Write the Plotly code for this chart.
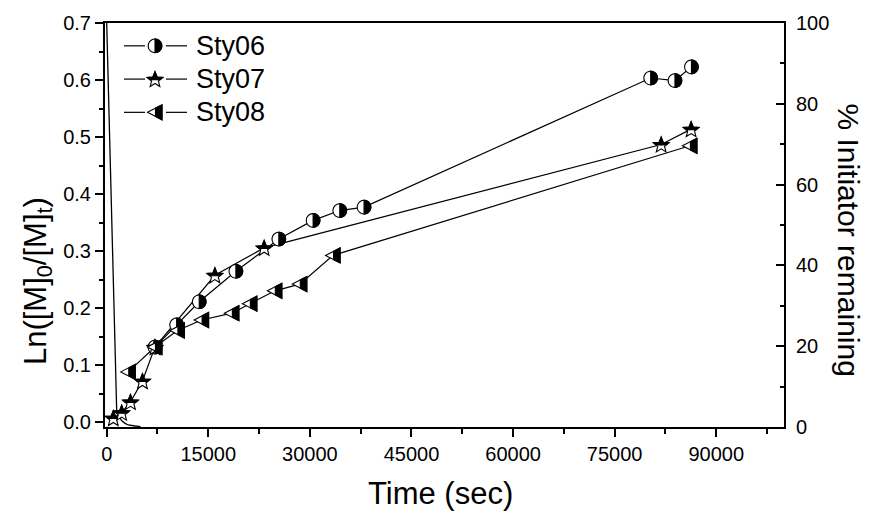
import math
import plotly.graph_objects as go

# ---------------- data ----------------
sty06_t = [7124, 10325, 13659, 19072, 25415, 30474, 34412, 37996, 80314, 83900, 86334]
sty06_y = [0.1315, 0.1705, 0.211, 0.2645, 0.321, 0.3537, 0.371, 0.377, 0.6035, 0.599, 0.623]

sty07_t = [974, 2213, 3511, 5280, 7124, 15974, 23246, 81862, 86287]
sty07_y = [0.007, 0.0164, 0.0353, 0.0719, 0.1315, 0.2575, 0.3056, 0.4869, 0.5138]

sty08_t = [3186, 7124, 10443, 14012, 18480, 21137, 24826, 28512, 33424, 86110]
sty08_y = [0.088, 0.1315, 0.1606, 0.179, 0.191, 0.2076, 0.2302, 0.242, 0.2923, 0.4846]

init_t = [0, 1000, 1475, 1711, 2200, 2700, 3186, 4174, 5000]
init_pct = [100, 36, 4.2, 3.0, 1.6, 0.9, 0.5, 0.25, 0.1]

series_names = ["Sty06", "Sty07", "Sty08"]
x_ticks = [0, 15000, 30000, 45000, 60000, 75000, 90000]

FONT = "Liberation Sans, Arial, Helvetica, sans-serif"

# ---------------- marker geometry (pixel offsets, y up) ----------------
def poly_path(pts):
    return "M " + " L ".join(f"{x:.2f},{y:.2f}" for x, y in pts) + " Z"


def clip(poly, inside, intersect):
    out = []
    n = len(poly)
    for i in range(n):
        cur = poly[i]
        prev = poly[i - 1]
        if inside(cur):
            if not inside(prev):
                out.append(intersect(prev, cur))
            out.append(cur)
        elif inside(prev):
            out.append(intersect(prev, cur))
    return out


def clip_x_ge(poly, c):
    return clip(poly, lambda p: p[0] >= c,
                lambda a, b: (c, a[1] + (b[1] - a[1]) * (c - a[0]) / (b[0] - a[0])))


def clip_y_ge(poly, c):
    return clip(poly, lambda p: p[1] >= c,
                lambda a, b: (a[0] + (b[0] - a[0]) * (c - a[1]) / (b[1] - a[1]), c))


R_C = 6.8
circle_pts = [(R_C * math.cos(2 * math.pi * k / 48), R_C * math.sin(2 * math.pi * k / 48)) for k in range(48)]
circle_full = poly_path(circle_pts)
circle_half = poly_path(clip_x_ge(circle_pts, 0))

R_S, r_S = 8.2, 3.6
star_pts = []
for k in range(10):
    ang = math.pi / 2 + k * math.pi / 5
    rr = R_S if k % 2 == 0 else r_S
    star_pts.append((rr * math.cos(ang), rr * math.sin(ang) - 0.8))
star_full = poly_path(star_pts)
star_half = poly_path(clip_y_ge(star_pts, -0.5))

tri_pts = [(-7.5, 0), (7.0, 7.5), (7.0, -7.5)]
tri_full = poly_path(tri_pts)
tri_half = poly_path(clip_x_ge(tri_pts, 0.5))

glyphs = {
    "Sty06": (circle_full, circle_half),
    "Sty07": (star_full, star_half),
    "Sty08": (tri_full, tri_half),
}

shapes = []


def add_marker(name, xa, ya, xref, yref):
    full, half = glyphs[name]
    common = dict(type="path", xref=xref, yref=yref, xanchor=xa, yanchor=ya,
                  xsizemode="pixel", ysizemode="pixel", layer="above")
    shapes.append(dict(path=full, fillcolor="white", line=dict(color="black", width=1.1), **common))
    shapes.append(dict(path=half, fillcolor="black", line=dict(color="black", width=1.1), **common))


fig = go.Figure()

data = [(sty06_t, sty06_y), (sty07_t, sty07_y), (sty08_t, sty08_y)]
for name, (t, y) in zip(series_names, data):
    fig.add_trace(go.Scatter(x=t, y=y, mode="lines", name=name, showlegend=False,
                             line=dict(color="black", width=1.2)))
    for tx, vy in zip(t, y):
        add_marker(name, tx, vy, "x", "y")

fig.add_trace(go.Scatter(x=init_t, y=init_pct, mode="lines", yaxis="y2", showlegend=False,
                         name="Initiator", line=dict(color="black", width=1.3)))

# ---------------- manual legend ----------------
L, Rr, T, B = 105, 784, 20, 427


def px(x):
    return (x - L) / (Rr - L)


def py(y):
    return (B - y) / (B - T)


annotations = []
for i, name in enumerate(series_names):
    yy = py(43 + 33.5 * i)
    shapes.append(dict(type="line", xref="paper", yref="paper", x0=px(124), x1=px(145), y0=yy, y1=yy,
                       line=dict(color="black", width=1.2)))
    shapes.append(dict(type="line", xref="paper", yref="paper", x0=px(166), x1=px(187), y0=yy, y1=yy,
                       line=dict(color="black", width=1.2)))
    add_marker(name, px(155), yy, "paper", "paper")
    annotations.append(dict(text=name, xref="paper", yref="paper", x=px(194), y=yy,
                            xanchor="left", yanchor="middle", showarrow=False,
                            font=dict(family=FONT, size=27, color="black")))

# axis titles
annotations.append(dict(text="Time (sec)", xref="paper", yref="paper", x=px(440), y=py(494),
                        xanchor="center", yanchor="middle", showarrow=False,
                        font=dict(family=FONT, size=31, color="black")))
annotations.append(dict(text="Ln([M]<sub>0</sub>/[M]<sub>t</sub>)", xref="paper", yref="paper",
                        x=px(38), y=py(280), xanchor="center", yanchor="middle", textangle=-90,
                        showarrow=False, font=dict(family=FONT, size=31, color="black")))
annotations.append(dict(text="% Initiator remaining", xref="paper", yref="paper",
                        x=px(849), y=py(238), xanchor="center", yanchor="middle", textangle=90,
                        showarrow=False, font=dict(family=FONT, size=30, color="black")))

axis_common = dict(showgrid=False, zeroline=False, showline=True, linecolor="black", linewidth=2,
                   tickcolor="black", tickwidth=1.5,
                   tickfont=dict(family=FONT, size=20, color="black"))

fig.update_layout(
    width=873, height=513,
    margin=dict(l=L, r=873 - Rr, t=T, b=513 - B),
    paper_bgcolor="white", plot_bgcolor="white",
    shapes=shapes, annotations=annotations,
    showlegend=False,
    xaxis=dict(range=[-250, 100000], tickmode="array", tickvals=x_ticks,
               ticktext=[str(v) for v in x_ticks], ticks="outside", ticklen=8,
               mirror=True,
               minor=dict(dtick=7500, tick0=0, ticks="outside", ticklen=5, tickcolor="black", tickwidth=1.5),
               **axis_common),
    yaxis=dict(range=[-0.0087, 0.7], dtick=0.1, tick0=0, tickformat=".1f", ticks="outside", ticklen=8,
               minor=dict(dtick=0.05, tick0=0, ticks="outside", ticklen=4, tickcolor="black", tickwidth=1.5),
               **axis_common),
    yaxis2=dict(range=[0, 100], dtick=20, tick0=0, overlaying="y", side="right", anchor="x",
                ticks="inside", ticklen=8, ticklabelstandoff=6,
                minor=dict(dtick=10, tick0=0, ticks="inside", ticklen=4, tickcolor="black", tickwidth=1.5),
                **axis_common),
)

fig.write_html("out.html")
